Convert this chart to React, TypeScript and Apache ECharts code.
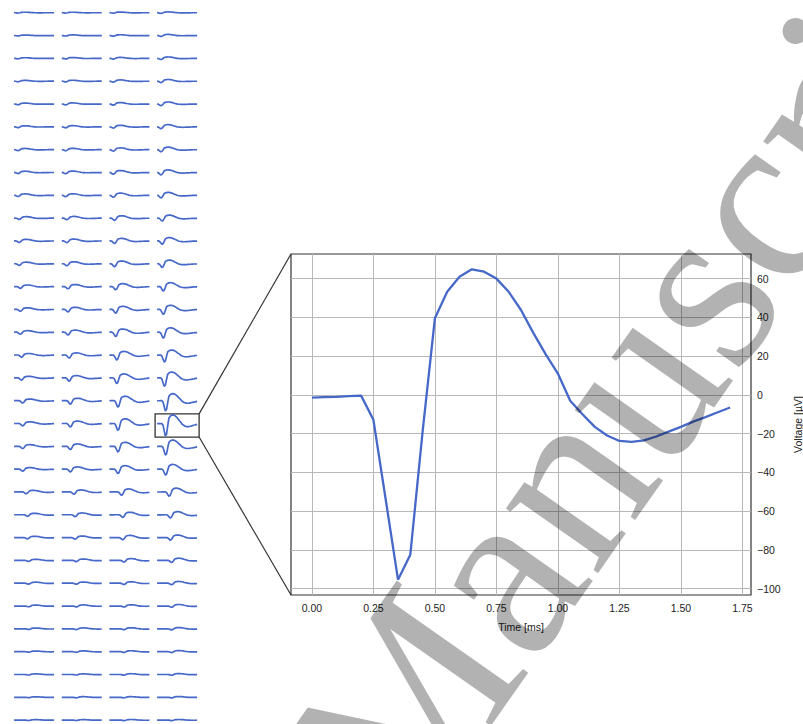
import React, { useEffect, useRef } from "react";
import * as echarts from "echarts";

// ---------- data ----------
const timeMs = [
  0, 0.05, 0.1, 0.15, 0.2, 0.25, 0.3, 0.35, 0.4, 0.45, 0.5, 0.55, 0.6, 0.65, 0.7, 0.75, 0.8, 0.85,
  0.9, 0.95, 1.0, 1.05, 1.1, 1.15, 1.2, 1.25, 1.3, 1.35, 1.4, 1.45, 1.5, 1.55, 1.6, 1.65, 1.7,
];
const voltageUv = [
  -1.4, -1.2, -1.0, -0.7, -0.4, -12.9, -54, -95.4, -82.5, -19, 39.5, 53.2, 61, 64.8, 63.6, 60, 53.2, 43.8,
  32, 21, 11, -3, -10, -16.5, -21, -23.8, -24.3, -23.5, -21.5, -19, -16.5, -13.8, -11.5, -9, -6.5,
];
const xTicks = [0, 0.25, 0.5, 0.75, 1.0, 1.25, 1.5, 1.75];
const yTicks = [-100, -80, -60, -40, -20, 0, 20, 40, 60];

const highlightRow = 18;
const highlightCol = 3;

// trough amplitude (fraction of highlighted waveform) per row, columns 0..3
const troughScale = [
  [0.03, 0.03, 0.04, 0.05],
  [0.03, 0.04, 0.05, 0.07],
  [0.04, 0.05, 0.06, 0.09],
  [0.05, 0.06, 0.08, 0.11],
  [0.06, 0.07, 0.09, 0.13],
  [0.07, 0.08, 0.1, 0.15],
  [0.08, 0.09, 0.12, 0.17],
  [0.09, 0.1, 0.14, 0.19],
  [0.1, 0.11, 0.16, 0.21],
  [0.11, 0.13, 0.18, 0.23],
  [0.12, 0.14, 0.2, 0.26],
  [0.13, 0.16, 0.23, 0.3],
  [0.14, 0.18, 0.26, 0.35],
  [0.15, 0.2, 0.3, 0.4],
  [0.16, 0.22, 0.34, 0.47],
  [0.17, 0.24, 0.4, 0.56],
  [0.18, 0.26, 0.46, 0.68],
  [0.19, 0.28, 0.52, 0.82],
  [0.19, 0.28, 0.55, 1.0],
  [0.18, 0.26, 0.45, 0.7],
  [0.16, 0.22, 0.35, 0.48],
  [0.14, 0.18, 0.27, 0.34],
  [0.12, 0.15, 0.21, 0.26],
  [0.1, 0.12, 0.17, 0.2],
  [0.08, 0.1, 0.13, 0.16],
  [0.07, 0.08, 0.1, 0.12],
  [0.06, 0.07, 0.08, 0.1],
  [0.05, 0.06, 0.07, 0.08],
  [0.04, 0.05, 0.06, 0.07],
  [0.04, 0.04, 0.05, 0.06],
  [0.03, 0.04, 0.04, 0.05],
  [0.03, 0.03, 0.04, 0.04],
];
// ratio of positive lobe to trough, per row
const peakRatio = [
  1.8, 1.8, 1.8, 1.8, 1.8, 1.7, 1.7, 1.6, 1.6, 1.5, 1.5, 1.4, 1.3, 1.2, 1.1, 1.05, 1.0, 1.0,
  1.0, 1.05, 1.15, 1.3, 1.4, 1.5, 1.6, 1.7, 1.8, 1.8, 1.8, 1.8, 1.8, 1.8,
];
// timing offset per row, in samples
const rowShift = [
  4, 4, 4, 4, 4, 4, 4, 4, 4, 3, 3, 3, 2, 2, 2, 1, 1, 0, 0, 0, 0, -3, -4, -4, -5, -5, -5, -5, -5, -5, -5, -5,
];

// ---------- styling ----------
const BLUE = "#4668c8";
const FONT = "Liberation Sans";
const minus = (v: number) => String(v).replace("-", "\u2212");

function channelData(r: number, c: number) {
  const tr = troughScale[r][c];
  const pk = tr * peakRatio[r];
  const n = voltageUv.length;
  return timeMs.map((t, i) => {
    let j = i + rowShift[r];
    if (j < 0) j = 0;
    if (j > n - 1) j = n - 1;
    const v = voltageUv[j];
    return [t, v < 0 ? v * tr : v * pk];
  });
}

export default function App() {
  const ref = useRef<HTMLDivElement>(null);
  useEffect(() => {
    if (!ref.current) return;
    const chart = echarts.init(ref.current, undefined, { renderer: "svg" });

    const grids: any[] = [];
    const xAxes: any[] = [];
    const yAxes: any[] = [];
    const series: any[] = [];

    // main panel
    grids.push({
      left: 291,
      top: 254,
      width: 460,
      height: 341,
      containLabel: false,
      outerBoundsMode: "none",
      show: true,
      borderColor: "#333",
      borderWidth: 1.2,
      backgroundColor: "transparent",
    });
    xAxes.push({
      type: "value",
      gridIndex: 0,
      min: -0.085,
      max: 1.785,
      axisLine: { show: false },
      axisTick: { show: true, customValues: xTicks, length: 4, lineStyle: { color: "#333", width: 1 } },
      axisLabel: {
        customValues: xTicks,
        formatter: (v: number) => v.toFixed(2),
        fontSize: 10.5,
        color: "#222",
        margin: 7,
        fontFamily: FONT,
      },
      splitLine: { show: false },
      name: "Time [ms]",
      nameLocation: "middle",
      nameGap: 26,
      nameTextStyle: { fontSize: 10.5, color: "#222", fontFamily: FONT },
    });
    yAxes.push({
      type: "value",
      gridIndex: 0,
      position: "right",
      min: -103.3,
      max: 72.7,
      axisLine: { show: false },
      axisTick: { show: true, customValues: yTicks, length: 4, lineStyle: { color: "#333", width: 1 } },
      axisLabel: {
        customValues: yTicks,
        formatter: (v: number) => minus(v),
        fontSize: 10.5,
        color: "#222",
        margin: 6,
        fontFamily: FONT,
      },
      splitLine: { show: false },
      name: "Voltage [µV]",
      nameLocation: "middle",
      nameRotate: 90,
      nameGap: 41,
      nameTextStyle: { fontSize: 10.5, color: "#222", fontFamily: FONT },
    });
    const mainData = timeMs.map((t, i) => [t, voltageUv[i]]);
    series.push({
      type: "line",
      xAxisIndex: 0,
      yAxisIndex: 0,
      data: mainData,
      showSymbol: false,
      silent: true,
      z: 1,
      lineStyle: { opacity: 0 },
      markLine: {
        silent: true,
        symbol: ["none", "none"],
        label: { show: false },
        animation: false,
        lineStyle: { color: "#b8b8b8", width: 1, type: "solid" },
        data: [...xTicks.map((v) => ({ xAxis: v })), ...yTicks.map((v) => ({ yAxis: v }))],
      },
    });
    series.push({
      type: "line",
      xAxisIndex: 0,
      yAxisIndex: 0,
      data: mainData,
      showSymbol: false,
      z: 5,
      lineStyle: { color: BLUE, width: 2.3 },
    });

    // small multiples
    const rowTop0 = 12.7; // zero line of first row
    const rowStep = 22.82;
    const colLeft0 = 12.1;
    const colStep = 47.67;
    const pxPerUv = 0.1315;
    const nRows = troughScale.length;
    for (let r = 0; r < nRows; r++) {
      for (let c = 0; c < 4; c++) {
        const gi = grids.length;
        const zero = rowTop0 + rowStep * r;
        const isHi = r === highlightRow && c === highlightCol;
        grids.push({
          left: colLeft0 + colStep * c,
          top: zero - 72.7 * pxPerUv,
          width: 44,
          height: (72.7 + 103.3) * pxPerUv,
          containLabel: false,
          outerBoundsMode: "none",
          show: isHi,
          borderColor: "#333",
          borderWidth: 1.3,
          backgroundColor: "transparent",
        });
        xAxes.push({ type: "value", gridIndex: gi, min: -0.085, max: 1.785, show: false });
        yAxes.push({ type: "value", gridIndex: gi, min: -103.3, max: 72.7, show: false });
        series.push({
          type: "line",
          xAxisIndex: gi,
          yAxisIndex: gi,
          data: isHi ? mainData : channelData(r, c),
          showSymbol: false,
          silent: true,
          clip: false,
          lineStyle: { color: BLUE, width: 1.7 },
        });
      }
    }

    const hiLeft = colLeft0 + colStep * highlightCol + 44;
    const hiZero = rowTop0 + rowStep * highlightRow;
    const hiTop = hiZero - 72.7 * pxPerUv;
    const hiBottom = hiZero + 103.3 * pxPerUv;

    chart.setOption({
      animation: false,
      grid: grids,
      xAxis: xAxes,
      yAxis: yAxes,
      series,
      graphic: [
        {
          type: "line",
          shape: { x1: hiLeft, y1: hiTop, x2: 291, y2: 254 },
          style: { stroke: "#333", lineWidth: 1.2 },
          silent: true,
        },
        {
          type: "line",
          shape: { x1: hiLeft, y1: hiBottom, x2: 291, y2: 595 },
          style: { stroke: "#333", lineWidth: 1.2 },
          silent: true,
        },
        {
          type: "text",
          x: 660,
          y: 341,
          rotation: (55 * Math.PI) / 180,
          z: 100,
          silent: true,
          style: {
            text: "Manuscript",
            fontSize: 245,
            fontFamily: "Liberation Serif",
            fill: "rgba(0,0,0,0.3)",
            align: "center",
            verticalAlign: "middle",
            textAlign: "center",
            textVerticalAlign: "middle",
          },
        },
      ],
    });
    return () => chart.dispose();
  }, []);
  return (
    <div
      ref={ref}
      style={{ position: "fixed", left: 0, top: 0, width: 803, height: 724, background: "#fff" }}
    />
  );
}
